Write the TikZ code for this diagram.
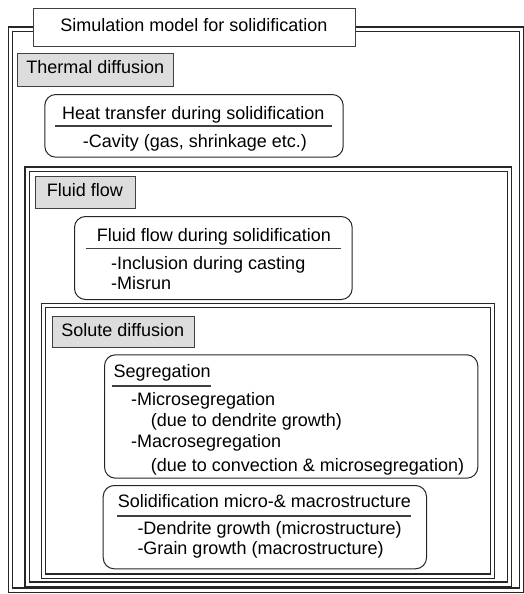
\documentclass[tikz,border=0pt]{standalone}
\usepackage{fontspec}
\setmainfont{Liberation Sans}
\begin{document}
\begin{tikzpicture}[x=1pt,y=-1pt,
  every node/.style={inner sep=0pt, font=\fontsize{18}{21}\selectfont},
  frame/.style={draw=black!85, double=white, double distance=3pt, line width=1.1pt, anchor=north west},
  titlebox/.style={draw=black!75, fill=white, line width=1pt, anchor=north west},
  tagbox/.style={draw=black!75, fill=gray!27, line width=1pt, anchor=north west},
  roundbox/.style={draw=black!85, fill=white, line width=1pt, rounded corners=11pt, anchor=north west},
  txt/.style={text height=13pt, text depth=4pt},
  rule/.style={draw=black!75, line width=1.1pt}]
\useasboundingbox (0,0) rectangle (524,594);

% nested double frames
\node[frame, minimum width=510.75pt, minimum height=561pt] (f1) at (10.25,28.5) {};
\node[frame, minimum width=482.2pt, minimum height=415pt] (f2) at (26.5,168.5) {};
\node[frame, minimum width=449.1pt, minimum height=270.5pt] (f3) at (43.2,305) {};

% title
\node[titlebox, minimum width=322pt, minimum height=37.4pt] (title) at (33,8.3) {};
\node[txt] (titletxt) at (194,27) {Simulation model for solidification};

% tags
\node[tagbox, minimum width=156pt, minimum height=32.4pt] (thermal) at (17.3,53.3) {};
\node[txt] (thermaltxt) at (95.3,69.5) {Thermal diffusion};
\node[tagbox, minimum width=100pt, minimum height=31.7pt] (fluid) at (35,176) {};
\node[txt] (fluidtxt) at (85,191.8) {Fluid flow};
\node[tagbox, minimum width=142.3pt, minimum height=31.6pt] (solute) at (51.7,315.7) {};
\node[txt] (solutetxt) at (122.8,331.5) {Solute diffusion};

% heat transfer box
\node[roundbox, minimum width=298.4pt, minimum height=62.7pt] (heat) at (44.3,94) {};
\node[txt] (heatT) at (193.3,115) {Heat transfer during solidification};
\draw[rule] (55,126) -- (331.7,126);
\node[txt, anchor=west] (heat1) at (82.7,143) {-Cavity (gas, shrinkage etc.)};

% fluid flow box
\node[roundbox, minimum width=277.7pt, minimum height=83pt] (flow) at (74,216) {};
\node[txt] (flowT) at (214,236.5) {Fluid flow during solidification};
\draw[rule] (85.7,248.3) -- (340.7,248.3);
\node[txt, anchor=west] (flow1) at (111,265) {-Inclusion during casting};
\node[txt, anchor=west] (flow2) at (111,285) {-Misrun};

% segregation box
\node[roundbox, minimum width=373.3pt, minimum height=123.4pt] (seg) at (104,354.3) {};
\node[txt, anchor=west] (segT) at (113.3,373.3) {Segregation};
\draw[rule] (111.7,386) -- (211,386);
\node[txt, anchor=west] (seg1) at (131,400.7) {-Microsegregation};
\node[txt, anchor=west] (seg2) at (150.7,421.7) {(due to dendrite growth)};
\node[txt, anchor=west] (seg3) at (131,442.7) {-Macrosegregation};
\node[txt, anchor=west] (seg4) at (150.7,466.7) {(due to convection \& microsegregation)};

% micro & macrostructure box
\node[roundbox, minimum width=323.3pt, minimum height=83.3pt] (micro) at (102.7,485) {};
\node[txt] (microT) at (264.3,503.3) {Solidification micro-\& macrostructure};
\draw[rule] (117.3,516) -- (410.7,516);
\node[txt, anchor=west] (micro1) at (137.3,530) {-Dendrite growth (microstructure)};
\node[txt, anchor=west] (micro2) at (137.3,550) {-Grain growth (macrostructure)};
\end{tikzpicture}
\end{document}
